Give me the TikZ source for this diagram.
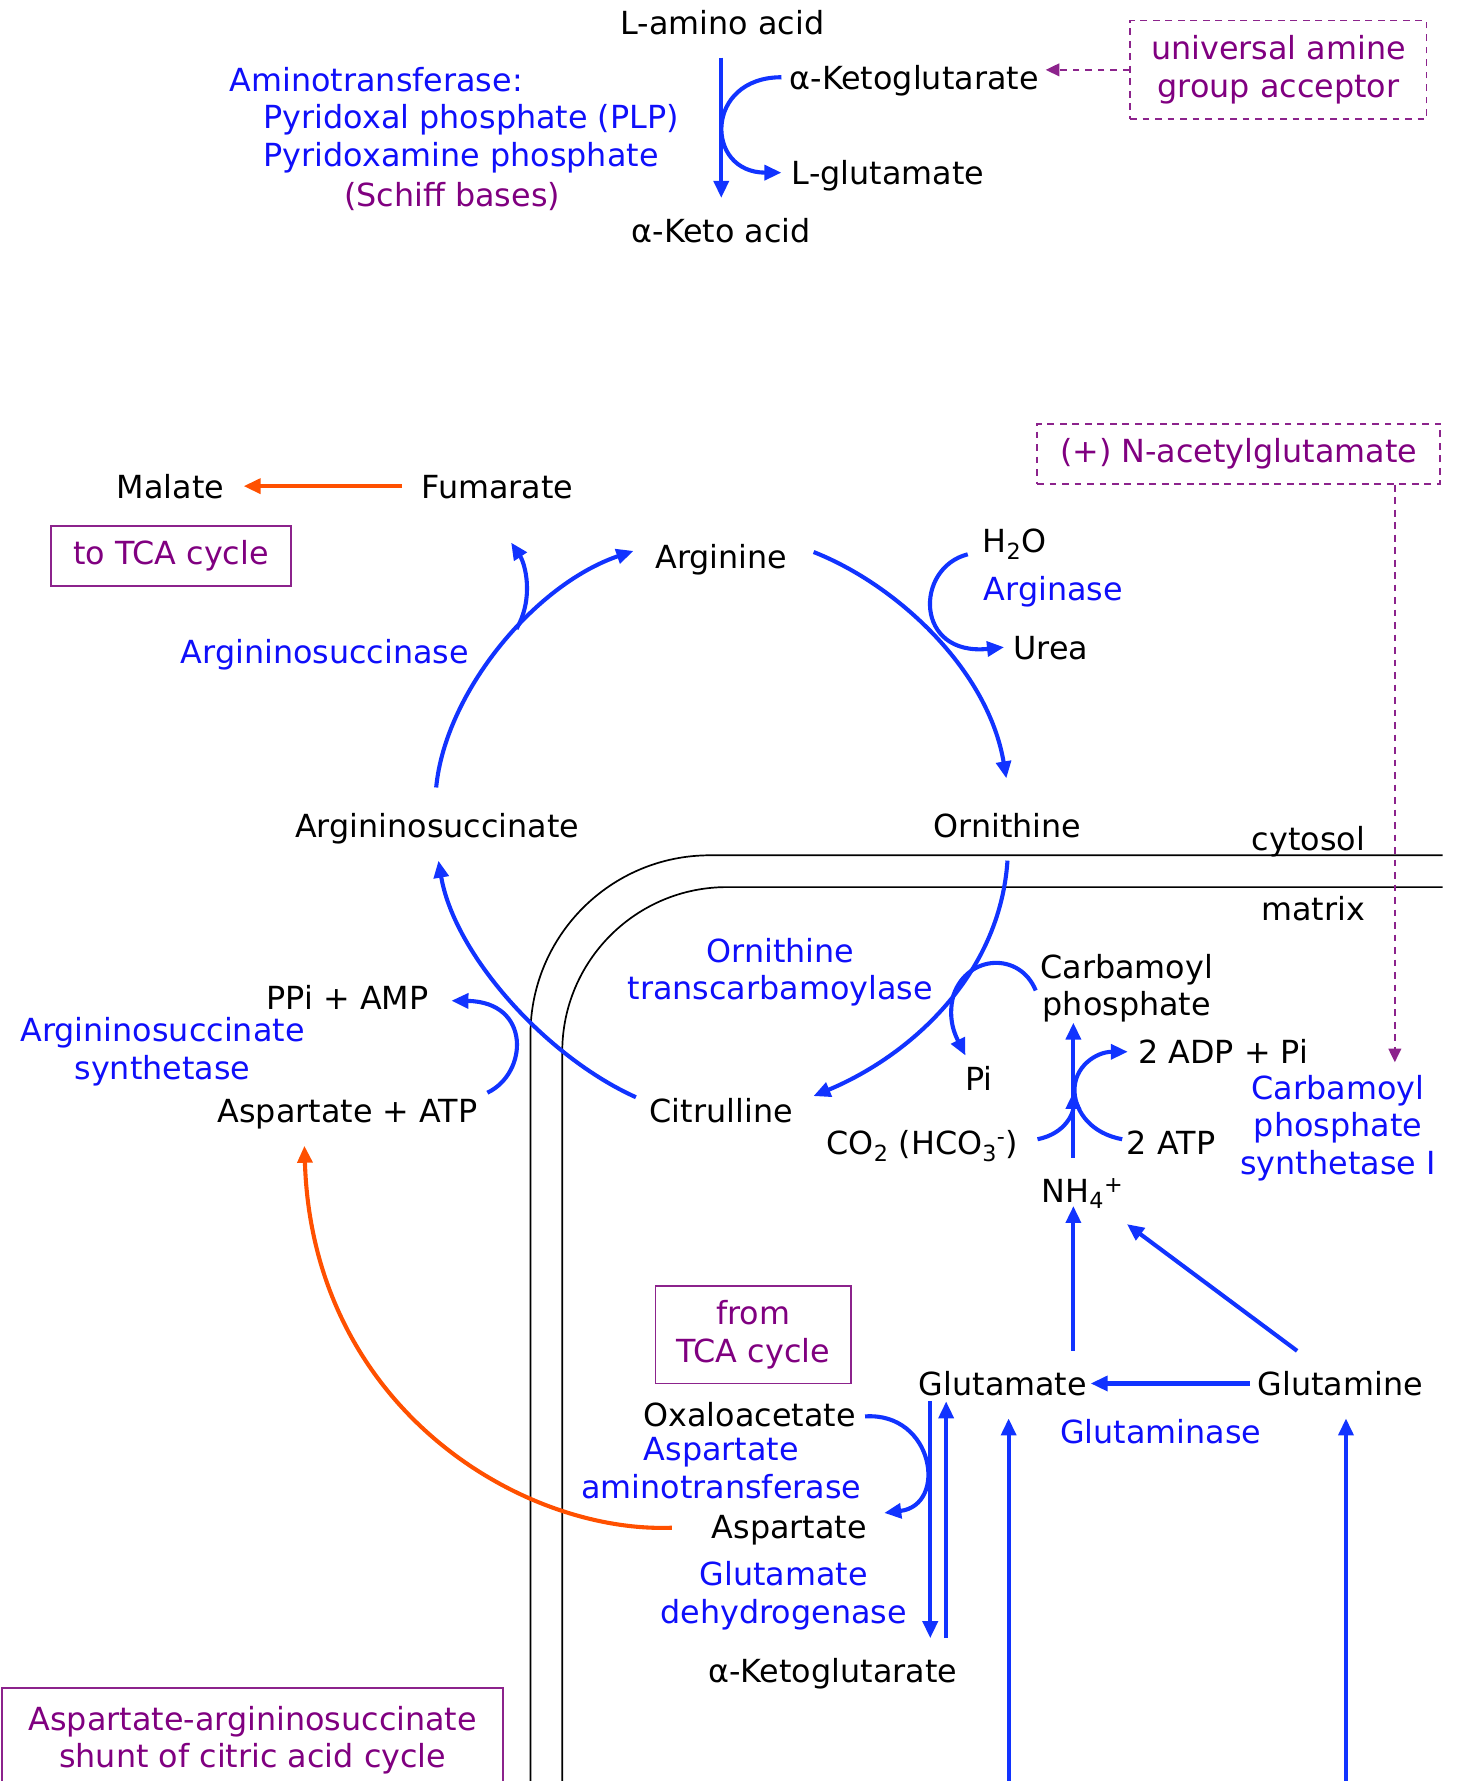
\documentclass[tikz,border=0pt]{standalone}
\usepackage{fontspec}
\setmainfont{DejaVu Sans}
\usepackage{xcolor}
\usepackage{tikz}
\usetikzlibrary{arrows.meta, positioning}
\definecolor{enzyme}{RGB}{15,15,250}
\definecolor{flow}{RGB}{17,51,255}
\definecolor{note}{RGB}{128,0,128}
\definecolor{noteline}{RGB}{140,35,140}
\definecolor{shunt}{RGB}{255,80,0}
\newcommand{\figfont}{\fontsize{28}{33}\selectfont}

\begin{document}
\begin{tikzpicture}[
  x=1pt, y=-1pt,
  font=\figfont,
  mol/.style={inner sep=0pt, text height=24pt, text depth=3pt},
  moll/.style={inner sep=0pt, align=center},
  enz/.style={mol, text=enzyme},
  enzl/.style={moll, text=enzyme},
  tag/.style={rectangle, draw=noteline, line width=1.5pt, text=note,
              align=center, inner sep=0pt},
  dtag/.style={tag, dash pattern=on 6pt off 5pt},
  arr/.style={-{Triangle[length=15pt,width=13pt]}, line width=3.6pt, draw=flow},
  oarr/.style={arr, draw=shunt},
  darr/.style={-{Triangle[length=12pt,width=11pt]}, line width=2pt,
               draw=noteline, dash pattern=on 6pt off 5pt},
  wall/.style={line width=1.5pt, rounded corners=#1},
  node distance=16pt and 20pt
]
  \useasboundingbox (0,0) rectangle (1282,1568);

  % Top — transamination
  \node[mol] (ami)  at (636,20)  {L-amino acid};
  \node[mol] (keto) at (635,203) {α-Keto acid};
  \node[mol, anchor=west] (akg)  at (695,68)  {α-Ketoglutarate};
  \node[mol, anchor=west] (lglu) at (697,152) {L-glutamate};
  \node[dtag, minimum width=261pt, minimum height=87pt] (acc) at (1125.5,61.5)
    {universal amine\\group acceptor};
  \node[enz, anchor=west] (at1) at (202,70)  {Aminotransferase:};
  \node[enz, anchor=west] (at2) at (232,103) {Pyridoxal phosphate (PLP)};
  \node[enz, anchor=west] (at3) at (232,136) {Pyridoxamine phosphate};
  \node[mol, text=note] (schiff) at (398,171) {(Schiff bases)};

  \draw[arr] ([shift={(-1,17)}]ami.south) -- ([shift={(0,-15)}]keto.north);
  \draw[arr] ([xshift=-7pt]akg.west) .. controls +(-68,0) and +(-68,0) .. ([xshift=-9pt]lglu.west);
  \draw[darr] (acc.west) -- ([xshift=6pt]akg.east |- acc.west);

  % Cytosol — urea cycle
  \node[mol] (mal) at (150,428) {Malate};
  \node[mol] (fum) at (438,428) {Fumarate};
  \node[tag, minimum width=211pt, minimum height=53pt] (tca) at (150.5,489.5) {to TCA cycle};
  \node[mol] (arg) at (635,490) {Arginine};
  \node[mol] (orn) at (887,727) {Ornithine};
  \node[mol] (asc) at (385,727) {Argininosuccinate};
  \node[mol] (cit) at (635,978) {Citrulline};
  \node[enz] (asl) at (286,574) {Argininosuccinase};
  \node[mol, anchor=west] (h2o) at (865,476) {H\textsubscript{2}O};
  \node[enz, below=15pt of h2o.south west, anchor=north west, xshift=1pt] (argase) {Arginase};
  \node[mol, below right=24pt and 26pt of argase.south west] (urea) {Urea};
  \node[dtag, minimum width=355pt, minimum height=53pt] (nag) at (1090.5,399.5)
    {(+) N-acetylglutamate};
  \node[mol] (ppi) at (306,878) {PPi + AMP};
  \node[mol] (asp) at (306,978) {Aspartate + ATP};
  \node[enzl] (ass) at (143,926) {Argininosuccinate\\synthetase};

  % Membranes
  \draw[wall=158pt] (467,1568) |- (1270,753);
  \draw[wall=145pt] (495,1568) |- (1270,781);
  \node[mol] (cyt) at (1152,738) {cytosol};
  \node[mol] (mat) at (1156,800) {matrix};

  \draw[oarr] ([xshift=-17pt]fum.west) -- ([xshift=17pt]mal.east);
  \draw[arr] ([shift={(23,-4)}]arg.east) .. controls (790,515) and (870,590) .. ([shift={(-1,-28)}]orn.north);
  \draw[arr] ([shift={(-13,12)}]h2o.west) .. controls (805,500) and (805,578) .. ([xshift=-8pt]urea.west);
  \draw[arr] ([shift={(-1,-20)}]asc.north) .. controls (392,610) and (470,515) .. ([shift={(-19,-5)}]arg.west)
    coordinate[pos=0.57] (brA);
  \draw[arr] (brA) .. controls +(16,-28) and +(12,18) .. ([shift={(12,36)}]fum.south);
  \draw[arr] ([shift={(-12,-12)}]cit.west) .. controls (480,930) and (400,840) .. ([shift={(1,17)}]asc.south);
  \draw[arr] ([shift={(8.5,-16)}]asp.east) .. controls (465,945) and (468,882) .. ([shift={(20,3)}]ppi.east);

  % Matrix — carbamoyl phosphate
  \node[enzl] (otc) at (687,856) {Ornithine\\transcarbamoylase};
  \node[moll] (cp) at (992,870) {Carbamoyl\\phosphate};
  \node[mol] (pi)  at (862,950)   {Pi};
  \node[mol] (adp) at (1077,926)  {2 ADP + Pi};
  \node[mol] (atp) at (1031,1006) {2 ATP};
  \node[mol] (co2) at (812,1006)  {CO\textsubscript{2} (HCO\textsubscript{3}\textsuperscript{-})};
  \node[mol] (nh4) at (953,1048)  {NH\textsubscript{4}\textsuperscript{+}};
  \node[enzl] (cpsl) at (1178,993) {Carbamoyl\\phosphate\\synthetase I};

  \draw[arr] ([shift={(0,17)}]orn.south) .. controls (880,860) and (800,930) .. ([shift={(18,-13)}]cit.east)
    coordinate[pos=0.45] (otcA);
  \draw[arr] ([shift={(-4,2)}]cp.west) .. controls (898,838) and (852,840) .. (otcA)
    .. controls +(-6,22) and +(-8,-16) .. ([shift={(-12,-7)}]pi.north);
  \coordinate (nhup) at ([shift={(-8,-15)}]nh4.north);
  \draw[arr] (nhup) -- (nhup |- cp.south);
  \draw[arr] ([shift={(17,-3)}]co2.east) .. controls +(25,-5) and +(0,18) .. ([yshift=58pt]nhup);
  \draw[arr] ([shift={(-4,-3)}]atp.west) .. controls +(-27,-5) and +(1,18) .. ([shift={(1,-58)}]nhup)
    .. controls +(-1,-22) and +(-28,0) .. ([xshift=-9pt]adp.west);
  \draw[darr] ([xshift=137.5pt]nag.south) -- ([shift={(50,-11)}]cpsl.north);

  % Matrix — glutamate / glutamine / aspartate
  \node[mol] (glu) at (883,1218)  {Glutamate};
  \node[mol] (gln) at (1180,1218) {Glutamine};
  \node[enz] (gls) at (1022,1260) {Glutaminase};
  \node[tag, minimum width=172pt, minimum height=86pt] (ftca) at (663,1175) {from\\TCA cycle};
  \node[mol] (oaa)  at (660,1245) {Oxaloacetate};
  \node[enzl] (aat) at (635,1292.5) {Aspartate\\aminotransferase};
  \node[mol] (asp2) at (695,1344) {Aspartate};
  \node[enzl] (gdh) at (690,1405) {Glutamate\\dehydrogenase};
  \node[mol] (akg2) at (733,1471) {α-Ketoglutarate};
  \node[tag, minimum width=441pt, minimum height=92pt] (shn) at (222.5,1532)
    {Aspartate-argininosuccinate\\shunt of citric acid cycle};
  \coordinate (inA) at (888,1568);
  \coordinate (inB) at (1185,1568);

  \draw[arr] ([xshift=-7pt]gln.west) -- ([xshift=3pt]glu.east);
  \coordinate (gluup) at ([shift={(62,-15)}]glu.north);
  \draw[arr] (gluup) -- (gluup |- nh4.south);
  \draw[arr] ([shift={(-38,-15)}]gln.north) -- ([shift={(3,16)}]nh4.south east);
  \draw[arr] (inA) -- ([shift={(5,17)}]glu.south);
  \draw[arr] (inB) -- ([shift={(5,17)}]gln.south);
  \draw[arr] ([shift={(-64,2)}]glu.south) -- ([shift={(86,-15)}]akg2.north);
  \draw[arr] ([shift={(100,-15)}]akg2.north) -- ([shift={(-50,2)}]glu.south);
  \draw[arr] ([shift={(8,2)}]oaa.east) .. controls (822,1243) and (835,1325) .. ([shift={(15,-12)}]asp2.east);
  \draw[oarr] ([shift={(-35,1)}]asp2.west) .. controls (460,1350) and (275,1240) .. ([shift={(-38,17)}]asp.south);
\end{tikzpicture}
\end{document}
